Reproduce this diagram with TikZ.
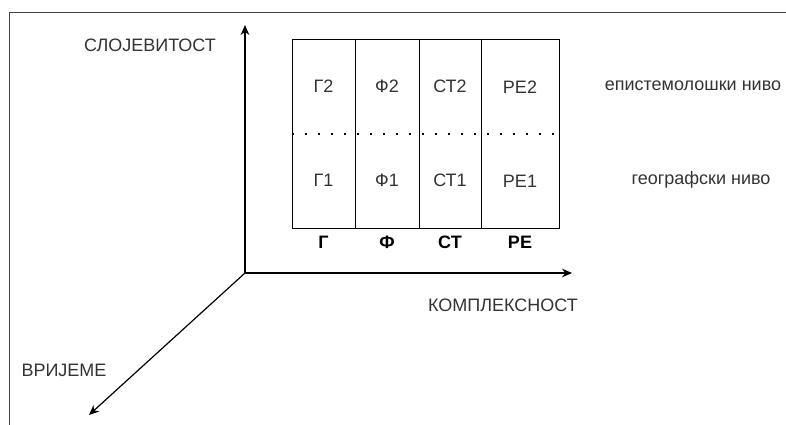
\documentclass[tikz,border=0pt]{standalone}
\usepackage{fontspec}
\setmainfont{Liberation Sans}
\usetikzlibrary{positioning}
\usetikzlibrary{arrows.meta}
\definecolor{txtgray}{HTML}{333333}
\definecolor{framegray}{HTML}{444444}
\tikzset {
  x=0.75pt, y=-0.75pt,
  % one column of the table
  col/.style = {draw, line width=0.75pt, minimum height=141.75pt, inner sep=0pt},
  % text in the cells and beside the axes
  lbl/.style = {text=txtgray, inner sep=0pt, font=\fontsize{13.5}{16}\selectfont},
  head/.style = {inner sep=0pt, font=\fontsize{13.5}{16}\selectfont\bfseries},
  % the axes
  axis/.style = {line width=1.1pt, -{Stealth[length=7.5pt, width=6.5pt]}},
  level/.style = {line width=1.5pt, dash pattern=on 1.5pt off 8.25pt},
}
\begin{document}
\begin{tikzpicture}
      \useasboundingbox (0,0) rectangle (786,425);

      % frame
      \draw [framegray, line width=0.75pt] (786,12) -- (9,12) -- (9,425);

      % axes
      \coordinate (o) at (245,273);
      \coordinate (up) at (245,25);
      \coordinate (right) at (572,273);
      \coordinate (down) at (89,415);
      \draw [axis] (o) -- (up);
      \draw [axis] (o) -- (right);
      \draw [axis, line width=0.9pt] (o) -- (down);

      \node[lbl] (sl) at (150,45) {СЛОЈЕВИТОСТ};
      \node[lbl] (ko) at (503,305) {КОМПЛЕКСНОСТ};
      \node[lbl] (vr) at (64,370) {ВРИЈЕМЕ};

      % table
      \node[col, minimum width=47.25pt] (cg) at (323.5,133.5) {};
      \node[col, minimum width=48pt] (cf) at (387,133.5) {};
      \node[col, minimum width=46.5pt] (cst) at (450,133.5) {};
      \node[col, minimum width=58.5pt] (cre) at (520,133.5) {};

      \draw [level] (cg.west) -- (cre.east);

      \node[lbl] (g2) at (323.5,86) {Г2};
      \node[lbl] (f2) at (387,86) {Ф2};
      \node[lbl] (st2) at (450,86) {СТ2};
      \node[lbl] (re2) at (520,87) {РЕ2};

      \node[lbl] (g1) at (323.5,180) {Г1};
      \node[lbl] (f1) at (387,180) {Ф1};
      \node[lbl] (st1) at (450,180) {СТ1};
      \node[lbl] (re1) at (520,181) {РЕ1};

      \node[head] (g) at (323.5,242) {Г};
      \node[head] (f) at (387,242) {Ф};
      \node[head] (st) at (450,242) {СТ};
      \node[head] (re) at (520,242) {РЕ};

      \node[lbl] (ep) at (693,86) {епистемолошки ниво};
      \node[lbl] (ge) at (701,180) {географски ниво};
    \end{tikzpicture}
\end{document}
